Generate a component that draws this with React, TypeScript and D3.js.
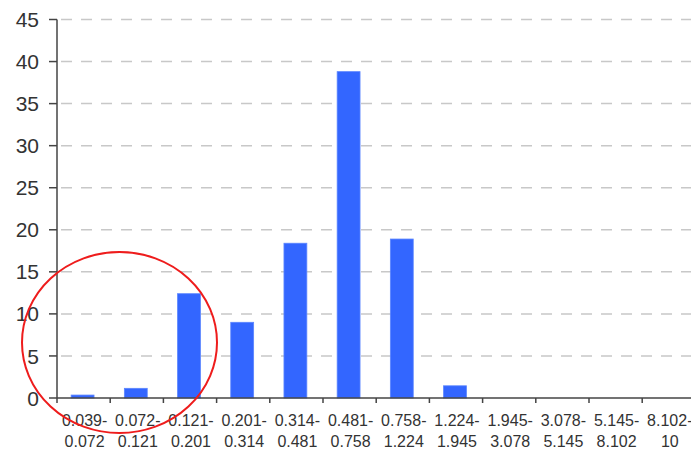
import React from "react";
import * as d3 from "d3";

const categories: string[][] = [
  ["0.039-", "0.072"],
  ["0.072-", "0.121"],
  ["0.121-", "0.201"],
  ["0.201-", "0.314"],
  ["0.314-", "0.481"],
  ["0.481-", "0.758"],
  ["0.758-", "1.224"],
  ["1.224-", "1.945"],
  ["1.945-", "3.078"],
  ["3.078-", "5.145"],
  ["5.145-", "8.102"],
  ["8.102-", "10"],
];
const values: number[] = [0.35, 1.15, 12.4, 9.0, 18.4, 38.8, 18.9, 1.45, 0, 0, 0, 0];
const yTicks: number[] = [0, 5, 10, 15, 20, 25, 30, 35, 40, 45];

const W = 691;
const H = 453;
const left = 57;
const bandW = 53.2;
const y0 = 398;
const yTop = 19.5;

export default function App() {
  const keys = categories.map((c) => c.join(""));
  const x = d3
    .scaleBand<string>()
    .domain(keys)
    .range([left, left + bandW * keys.length])
    .paddingInner(0.57)
    .paddingOuter(0.285);
  const xb = d3.scaleBand<string>().domain(keys).range([left, left + bandW * keys.length]);
  const y = d3.scaleLinear().domain([0, 45]).range([y0, yTop]);
  const font = "'Liberation Sans', Arial, sans-serif";
  return (
    <svg
      width={W}
      height={H}
      style={{ position: "absolute", left: 0, top: 0, background: "#fff" }}
      fontFamily={font}
    >
      {yTicks
        .filter((t) => t > 0)
        .map((t) => (
          <line
            key={"g" + t}
            x1={left}
            x2={W}
            y1={y(t)}
            y2={y(t)}
            stroke="#c8c8c8"
            strokeWidth={1.5}
            strokeDasharray="11,9"
            strokeDashoffset={-4}
          />
        ))}
      {values.map((v, i) =>
        v > 0 ? (
          <rect
            key={"b" + i}
            x={x(keys[i])! - 1}
            y={y(v)}
            width={x.bandwidth()}
            height={y0 - y(v)}
            fill="#3366ff"
            stroke="#5b85ff"
            strokeWidth={0.8}
          />
        ) : null
      )}
      {/* y axis */}
      <line x1={left} x2={left} y1={yTop} y2={y0} stroke="#444" strokeWidth={1.5} />
      {yTicks.map((t) => (
        <g key={"y" + t}>
          <line x1={left - 8} x2={left} y1={y(t)} y2={y(t)} stroke="#444" strokeWidth={1.5} />
          <text
            x={39}
            y={y(t)}
            dy="0.36em"
            textAnchor="end"
            fontSize={21}
            fill="#333"
          >
            {t}
          </text>
        </g>
      ))}
      {/* x axis */}
      <line x1={left} x2={W} y1={y0} y2={y0} stroke="#444" strokeWidth={1.5} />
      {keys.map((k, i) => (
        <line
          key={"xt" + i}
          x1={xb(k)!}
          x2={xb(k)!}
          y1={y0}
          y2={y0 + 5}
          stroke="#444"
          strokeWidth={1.5}
        />
      ))}
      {categories.map((c, i) => {
        const cx = xb(keys[i])! + xb.bandwidth() / 2 + 1;
        return (
          <text key={"xl" + i} textAnchor="middle" fontSize={16} fill="#333">
            <tspan x={cx} y={426}>
              {c[0]}
            </tspan>
            <tspan x={cx} y={447}>
              {c[1]}
            </tspan>
          </text>
        );
      })}
      <ellipse cx={119.5} cy={342.5} rx={97.5} ry={90.5} fill="none" stroke="#ee1c1c" strokeWidth={2} />
    </svg>
  );
}
